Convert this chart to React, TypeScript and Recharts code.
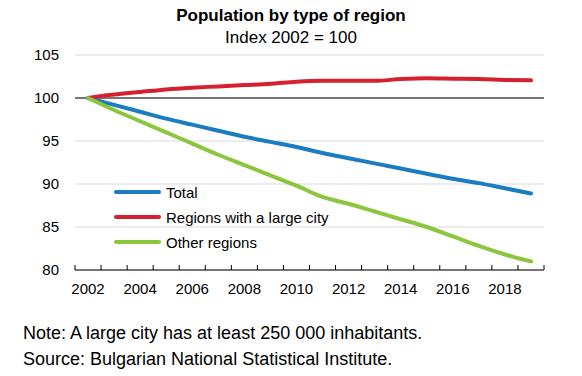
import { CartesianGrid, Line, LineChart, ReferenceLine, XAxis, YAxis } from "recharts";

const FONT = '"Liberation Sans", Arial, sans-serif';

const years = [
  2002, 2003, 2004, 2005, 2006, 2007, 2008, 2009, 2010, 2011, 2012, 2013, 2014, 2015, 2016, 2017, 2018, 2019,
];
const total = [
  100, 99.2, 98.4, 97.6, 96.9, 96.2, 95.5, 94.9, 94.3, 93.6, 93.0, 92.4, 91.8, 91.2, 90.6, 90.1, 89.5, 88.9,
];
const largeCity = [
  100, 100.4, 100.7, 101.0, 101.2, 101.35, 101.5, 101.65, 101.9, 102.0, 102.0, 102.0, 102.2, 102.3, 102.25,
  102.2, 102.1, 102.05,
];
const otherRegions = [
  100, 98.6, 97.3, 96.0, 94.7, 93.4, 92.2, 91.0, 89.8, 88.5, 87.7, 86.8, 85.9, 85.0, 83.9, 82.8, 81.8, 81.0,
];

const yTicks = [80, 85, 90, 95, 100, 105];
const xLabels = [2002, 2004, 2006, 2008, 2010, 2012, 2014, 2016, 2018];

const series = [
  { key: "total", name: "Total", color: "#1b7cc0" },
  { key: "largeCity", name: "Regions with a large city", color: "#d7202f" },
  { key: "other", name: "Other regions", color: "#8cc63f" },
];

const data = years.map((year, i) => ({
  year,
  total: total[i],
  largeCity: largeCity[i],
  other: otherRegions[i],
}));

// tick marks sit between the years, like a category axis
const boundaries = [...years.map((y) => y - 0.5), years[years.length - 1] + 0.5];
const domain: [number, number] = [boundaries[0], boundaries[boundaries.length - 1]];

// short mark pointing up from the axis line
function UpTick({ x, y }: { x?: number; y?: number }) {
  if (x == null || y == null) return null;
  return <line x1={x} x2={x} y1={y - 5} y2={y} stroke="#000" strokeWidth={1} />;
}

function LegendBox() {
  return (
    <div style={{ position: "absolute", left: 114, top: 179.5, fontFamily: FONT, fontSize: 15, color: "#000" }}>
      {series.map((s) => (
        <div key={s.key} style={{ display: "flex", alignItems: "center", height: 25, lineHeight: "25px" }}>
          <span style={{ display: "inline-block", width: 47, height: 4, borderRadius: 2, background: s.color, marginRight: 5 }} />
          <span style={{ whiteSpace: "nowrap" }}>{s.name}</span>
        </div>
      ))}
    </div>
  );
}

export default function App() {
  const text = { position: "absolute" as const, fontFamily: FONT, color: "#000", whiteSpace: "nowrap" as const };
  return (
    <div style={{ position: "absolute", left: 0, top: 0, width: 582, height: 376, background: "#fff" }}>
      <div style={{ ...text, left: 0, width: 582, top: 6.6, textAlign: "center", fontSize: 17, lineHeight: "17px", fontWeight: 700 }}>
        Population by type of region
      </div>
      <div style={{ ...text, left: 0, width: 582, top: 28.6, textAlign: "center", fontSize: 17, lineHeight: "17px" }}>
        Index 2002 = 100
      </div>
      <LineChart width={582} height={376} data={data} margin={{ top: 55, right: 38, bottom: 75, left: 0 }}>
        <CartesianGrid stroke="#d9d9d9" vertical={false} />
        <XAxis
          dataKey="year"
          type="number"
          domain={domain}
          ticks={boundaries}
          interval={0}
          tick={<UpTick />}
          tickLine={false}
          tickSize={0}
          tickMargin={0}
          height={1}
          axisLine={{ stroke: "#000" }}
        />
        <XAxis
          xAxisId="labels"
          dataKey="year"
          type="number"
          domain={domain}
          ticks={xLabels}
          interval={0}
          height={30}
          axisLine={false}
          tickLine={false}
          tickSize={0}
          tickMargin={12}
          tick={{ fill: "#000", fontSize: 15, fontFamily: FONT }}
        />
        <YAxis
          domain={[80, 105]}
          ticks={yTicks}
          width={75}
          axisLine={false}
          tickLine={false}
          tickSize={0}
          tickMargin={16}
          tick={{ fill: "#000", fontSize: 15, fontFamily: FONT }}
        />
        <ReferenceLine y={100} stroke="#000" strokeWidth={1} />
        {series.map((s) => (
          <Line
            key={s.key}
            dataKey={s.key}
            name={s.name}
            stroke={s.color}
            strokeWidth={4}
            strokeLinecap="round"
            dot={false}
            type="monotone"
            isAnimationActive={false}
          />
        ))}
      </LineChart>
      <LegendBox />
      <div style={{ ...text, left: 23, top: 324, fontSize: 18, lineHeight: "18px" }}>
        Note: A large city has at least 250 000 inhabitants.
      </div>
      <div style={{ ...text, left: 23, top: 350, fontSize: 18, lineHeight: "18px" }}>
        Source: Bulgarian National Statistical Institute.
      </div>
    </div>
  );
}
